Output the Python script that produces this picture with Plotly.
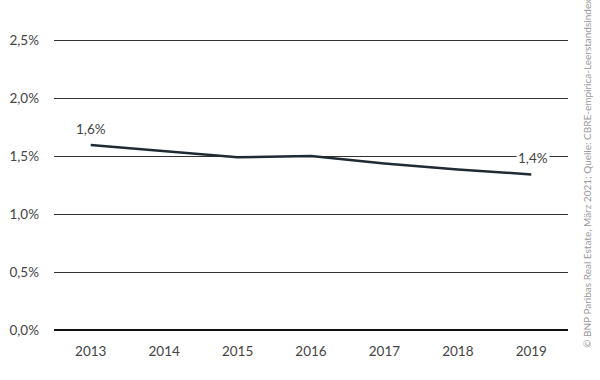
import plotly.graph_objects as go

years = ["2013", "2014", "2015", "2016", "2017", "2018", "2019"]
values = [1.595, 1.543, 1.49, 1.50, 1.437, 1.385, 1.342]
y_ticks = [0, 0.5, 1.0, 1.5, 2.0, 2.5]
y_labels = ["0,0%", "0,5%", "1,0%", "1,5%", "2,0%", "2,5%"]
first_label = "1,6%"
last_label = "1,4%"
source = "© BNP Paribas Real Estate, März 2021; Quelle: CBRE-empirica-Leerstandsindex"

font = "Lato"

fig = go.Figure()
fig.add_trace(go.Scatter(
    x=years, y=values, mode="lines",
    line=dict(color="#1f2a33", width=2.5),
    hoverinfo="skip", showlegend=False,
))

fig.add_annotation(xref="x", yref="y", x=0, y=values[0], text=first_label,
                   showarrow=False, yshift=16,
                   font=dict(family=font, size=13.5, color="#444"))
fig.add_annotation(xref="x", yref="y", x=len(years) - 1, y=values[-1],
                   text=last_label, showarrow=False,
                   yshift=16, xshift=2, bgcolor="white",
                   font=dict(family=font, size=13.5, color="#444"))

fig.add_annotation(xref="paper", yref="paper", x=1.0, y=-0.07,
                   xshift=19, xanchor="center", yanchor="bottom",
                   text=source, textangle=-90, showarrow=False,
                   font=dict(family=font, size=10, color="#999"))

fig.update_layout(
    width=600, height=380,
    margin=dict(l=54, r=32, t=39, b=50, autoexpand=False),
    plot_bgcolor="white", paper_bgcolor="white",
    font=dict(family=font, size=13.5, color="#444"),
    xaxis=dict(type="category", range=[-0.5, 6.5], showgrid=False,
               showline=False, zeroline=False, ticks="", automargin=False,
               ticklabelstandoff=11, tickfont=dict(size=13.5, color="#444")),
    yaxis=dict(range=[0, 2.51], tickvals=y_ticks, ticktext=y_labels,
               showgrid=True, gridcolor="#333", gridwidth=1, automargin=False,
               zeroline=True, zerolinecolor="#111", zerolinewidth=2,
               showline=False, ticks="", ticklabelstandoff=14,
               tickfont=dict(size=13.5, color="#444")),
)

fig.write_html("out.html", config={"displayModeBar": False},
               post_script="document.body.style.margin='0';")
